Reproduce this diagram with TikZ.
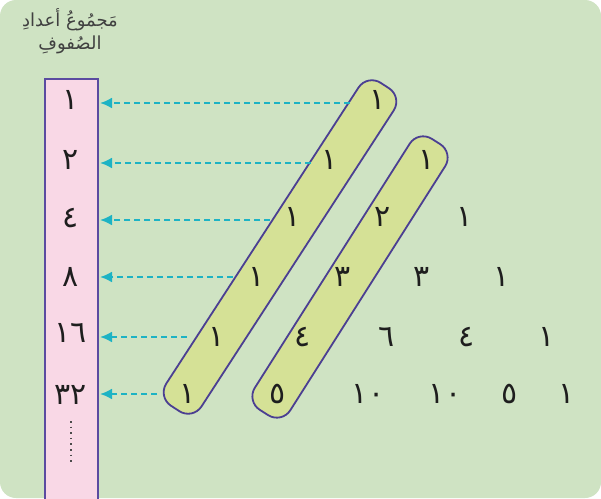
\documentclass[tikz,border=0pt]{standalone}
\usepackage{fontspec}
\usetikzlibrary{arrows.meta}
\TeXXeTstate=1
\newfontfamily\arabicfont[Script=Arabic]{DejaVu Sans}
\definecolor{bgc}{HTML}{CFE3C3}
\definecolor{pinkc}{HTML}{F9D8E6}
\definecolor{purc}{HTML}{5B4BA0}
\definecolor{capc}{HTML}{D5E196}
\definecolor{capb}{HTML}{4B3F92}
\definecolor{arrc}{HTML}{1DB3C4}
\definecolor{txtc}{HTML}{1E1E1E}
\begin{document}
\begin{tikzpicture}[x=1pt,y=-1pt,
  num/.style={font=\arabicfont\fontsize{30}{30}\selectfont, text=txtc, inner sep=0pt},
  capsule/.style={draw=capb, line width=1.8pt, fill=capc, rounded corners=16pt, minimum height=42pt, inner sep=0pt},
  arr/.style={arrc, line width=2.2pt, dash pattern=on 6pt off 4pt, shorten >=1pt, -{Latex[length=12pt,width=11pt]}},
  title/.style={font=\arabicfont\fontsize{18}{23}\selectfont, text=txtc!85, align=center, inner sep=0pt}
]
\useasboundingbox (0,0) rectangle (601,498);
\fill[white] (0,0) rectangle (601,498);
\fill[bgc, rounded corners=16pt] (0,0) rectangle (601,498);

% title
\node[title] (t) at (70,31) {\beginR مَجمُوعُ أعدادِ\endR\\ \beginR الصُفوفِ\endR};

% column
\node[draw=purc, fill=pinkc, line width=2pt, minimum width=53pt, minimum height=424pt, inner sep=0pt, anchor=north west] (col) at (44,78) {};
\node[num] (c0) at (71,100) {١};
\node[num] (c1) at (71,160) {٢};
\node[num] (c2) at (71,218) {٤};
\node[num] (c3) at (71,277) {٨};
\node[num] (c4) at (71,333) {١٦};
\node[num] (c5) at (71,395) {٣٢};
\draw[txtc!80, line width=1.6pt, dash pattern=on 1.6pt off 4pt] (71,421) -- (71,462);

% capsules
\node[capsule, minimum width=385pt, rotate=57] (k1) at (280,247) {};
\node[capsule, minimum width=321pt, rotate=57.6] (k2) at (350,277) {};

% Pascal triangle
\node[num] (p00) at (378,100) {١};
\node[num] (p10) at (330,160) {١};
\node[num] (p11) at (427,160) {١};
\node[num] (p20) at (293,217) {١};
\node[num] (p21) at (383,217) {٢};
\node[num] (p22) at (465,217) {١};
\node[num] (p30) at (257,277) {١};
\node[num] (p31) at (343,277) {٣};
\node[num] (p32) at (422,277) {٣};
\node[num] (p33) at (502,277) {١};
\node[num] (p40) at (217,337) {١};
\node[num] (p41) at (303,337) {٤};
\node[num] (p42) at (387,337) {٦};
\node[num] (p43) at (467,337) {٤};
\node[num] (p44) at (547,337) {١};
\node[num] (p50) at (188,394) {١};
\node[num] (p51) at (278,394) {٥};
\node[num] (p52) at (368,394) {١٠};
\node[num] (p53) at (445,394) {١٠};
\node[num] (p54) at (510,394) {٥};
\node[num] (p55) at (567,394) {١};

% arrows
\coordinate (a0) at (350,103);
\coordinate (a1) at (311,163);
\coordinate (a2) at (270,220);
\coordinate (a3) at (233,277);
\coordinate (a4) at (187,337);
\coordinate (a5) at (157,394);
\foreach \i in {0,...,5} {
  \draw[arr] (a\i) -- (col.east |- a\i);
}
\end{tikzpicture}
\end{document}
